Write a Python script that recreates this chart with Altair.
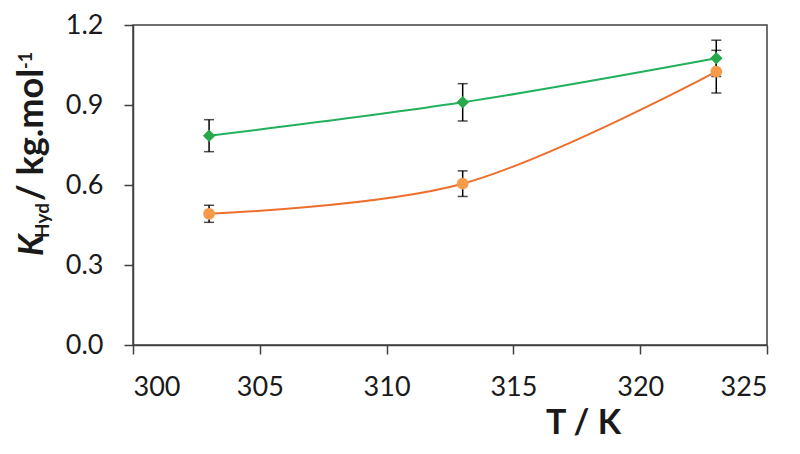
import altair as alt
import pandas as pd

# Data
temps = [303, 313, 323]
green_k = [0.785, 0.910, 1.075]
green_err = [0.060, 0.070, 0.068]
orange_k = [0.492, 0.605, 1.025]
orange_err = [0.032, 0.048, 0.080]
series_names = ["green", "orange"]
x_ticks = [300, 305, 310, 315, 320, 325]
y_ticks = [0.0, 0.3, 0.6, 0.9, 1.2]

GREEN_LINE = "#22B05C"
GREEN_MARK = "#27A84B"
ORANGE_LINE = "#EC6F2D"
ORANGE_MARK = "#F79B4A"
AXIS_COL = "#404040"
FONT = "Lato"

rows = []
for name, ks, es in [("green", green_k, green_err), ("orange", orange_k, orange_err)]:
    for t, k, e in zip(temps, ks, es):
        rows.append({"series": name, "T": t, "K": k, "lo": k - e, "hi": k + e})
df = pd.DataFrame(rows)

W, H = 634, 320

xs = alt.Scale(domain=[300, 325], nice=False, zero=False)
ys = alt.Scale(domain=[0, 1.2], nice=False)

xenc = alt.X("T:Q", scale=xs, axis=alt.Axis(
    values=x_ticks, title="T / K", titleFontSize=34, titleFont=FONT,
    titleFontWeight="bold", titleColor="#1a1a1a", titleX=450, titleY=88,
    titleAlign="center", titleBaseline="alphabetic", labelPadding=20,
    grid=False))
yenc = alt.Y("K:Q", scale=ys, axis=alt.Axis(
    values=y_ticks, format=".1f", title=None, labelPadding=21, grid=False))

line_scale = alt.Scale(domain=series_names, range=[GREEN_LINE, ORANGE_LINE])
fill_scale = alt.Scale(domain=series_names, range=[GREEN_MARK, ORANGE_MARK])
shape_scale = alt.Scale(domain=series_names, range=["diamond", "circle"])
size_scale = alt.Scale(domain=series_names, range=[155, 140])

base = alt.Chart(df)

lines = base.mark_line(interpolate="catmull-rom", strokeWidth=2).encode(
    x=xenc, y=yenc,
    stroke=alt.Stroke("series:N", scale=line_scale, legend=None),
)

bars = base.mark_rule(color="black", strokeWidth=1.5).encode(
    x="T:Q", y="lo:Q", y2="hi:Q")
caps_lo = base.mark_tick(color="black", orient="horizontal", size=10, thickness=1.5).encode(
    x="T:Q", y="lo:Q")
caps_hi = base.mark_tick(color="black", orient="horizontal", size=10, thickness=1.5).encode(
    x="T:Q", y="hi:Q")

points = base.mark_point(filled=True, opacity=1, strokeWidth=0).encode(
    x="T:Q", y="K:Q",
    fill=alt.Fill("series:N", scale=fill_scale, legend=None),
    shape=alt.Shape("series:N", scale=shape_scale, legend=None),
    size=alt.Size("series:N", scale=size_scale, legend=None),
)

# Y title built from pieces (italic K, subscript Hyd, superscript -1)
title_parts = [
    {"t": "K", "x": -90, "y": 231, "size": 34, "style": "italic"},
    {"t": "Hyd", "x": -84, "y": 213, "size": 19, "style": "normal"},
    {"t": "/ kg.mol", "x": -90, "y": 176, "size": 36, "style": "normal"},
    {"t": "-1", "x": -101, "y": 44, "size": 18, "style": "normal"},
]
title_layers = []
for p in title_parts:
    title_layers.append(
        alt.Chart(pd.DataFrame({"t": [p["t"]]})).mark_text(
            angle=270, align="left", baseline="alphabetic", font=FONT,
            fontWeight="bold", fontStyle=p["style"], fontSize=p["size"],
            color="#1a1a1a",
        ).encode(text="t:N", x=alt.value(p["x"]), y=alt.value(p["y"]))
    )

chart = alt.layer(lines, bars, caps_lo, caps_hi, points, *title_layers).properties(
    width=W, height=H,
    autosize=alt.AutoSizeParams(type="none"),
    padding={"left": 125, "top": 17, "right": 25, "bottom": 100},
).configure_view(
    stroke=AXIS_COL, strokeWidth=1.5
).configure_axis(
    domainColor=AXIS_COL, domainWidth=1.5, tickColor=AXIS_COL, tickWidth=1.5,
    tickSize=9, labelFont=FONT, labelFontSize=27, labelColor="#1a1a1a",
)

chart.save("out.html", embed_options={"renderer": "svg", "actions": False})
